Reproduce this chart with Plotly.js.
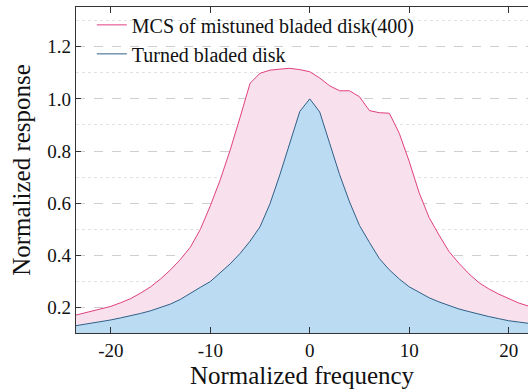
<!DOCTYPE html>
<html>
<head>
<meta charset="utf-8">
<script src="https://cdn.plot.ly/plotly-3.0.1.min.js"></script>
<style>html,body{margin:0;padding:0;background:#fff;}#chart{width:528px;height:392px;}</style>
</head>
<body>
<div id="chart"></div>
<script>
// Normalized frequency samples
const freq = [-24, -23, -22, -21, -20, -19, -18, -17, -16, -15, -14, -13, -12, -11, -10, -9, -8, -7, -6, -5, -4, -3, -2, -1, 0, 1, 2, 3, 4, 5, 6, 7, 8, 9, 10, 11, 12, 13, 14, 15, 16, 17, 18, 19, 20, 21, 22, 23, 24];
// MCS envelope of mistuned bladed disk (400 samples)
const mcsResponse = [0.167, 0.176, 0.186, 0.195, 0.205, 0.219, 0.235, 0.256, 0.280, 0.310, 0.345, 0.385, 0.432, 0.500, 0.590, 0.690, 0.804, 0.930, 1.060, 1.098, 1.110, 1.114, 1.117, 1.112, 1.104, 1.080, 1.050, 1.031, 1.031, 1.008, 0.955, 0.947, 0.945, 0.868, 0.760, 0.640, 0.545, 0.478, 0.415, 0.370, 0.330, 0.296, 0.272, 0.252, 0.235, 0.218, 0.206, 0.196, 0.188];
// Tuned bladed disk response
const tunedResponse = [0.128, 0.134, 0.139, 0.145, 0.153, 0.161, 0.169, 0.178, 0.188, 0.200, 0.214, 0.232, 0.256, 0.278, 0.300, 0.333, 0.368, 0.408, 0.455, 0.510, 0.598, 0.710, 0.830, 0.952, 1.000, 0.950, 0.830, 0.710, 0.605, 0.515, 0.450, 0.388, 0.345, 0.310, 0.280, 0.258, 0.238, 0.222, 0.207, 0.195, 0.185, 0.175, 0.166, 0.158, 0.150, 0.145, 0.140, 0.135, 0.130];
const seriesNames = ["MCS of mistuned bladed disk(400)", "Turned bladed disk"];
const xTickVals = [-20, -10, 0, 10, 20];
const xTickText = ["-20", "-10", "0", "10", "20"];

const serif = "Liberation Serif";
const pinkLine = "#e0407f", blueLine = "#2f6088";

const traces = [
  {x: freq, y: mcsResponse, type: "scatter", mode: "lines", showlegend: false, hoverinfo: "skip",
   line: {width: 0, color: pinkLine}, fill: "tozeroy", fillcolor: "#f8e0ed"},
  {x: freq, y: tunedResponse, type: "scatter", mode: "lines", showlegend: false, hoverinfo: "skip",
   line: {width: 0, color: blueLine}, fill: "tozeroy", fillcolor: "#badbf1"},
  {x: freq, y: mcsResponse, name: seriesNames[0], type: "scatter", mode: "lines",
   line: {color: pinkLine, width: 1}},
  {x: freq, y: tunedResponse, name: seriesNames[1], type: "scatter", mode: "lines",
   line: {color: blueLine, width: 1}}
];

const layout = {
  width: 528, height: 392,
  margin: {l: 76, r: 0, t: 7, b: 59},
  paper_bgcolor: "#fff", plot_bgcolor: "#fff",
  font: {family: serif, color: "#111", size: 19},
  showlegend: true,
  legend: {
    x: 0.035, y: 1.005, xanchor: "left", yanchor: "top",
    bgcolor: "rgba(0,0,0,0)", font: {family: serif, size: 20, color: "#111"},
    tracegroupgap: 0
  },
  xaxis: {
    range: [-23.5, 21.94],
    tickvals: xTickVals, ticktext: xTickText,
    ticks: "inside", ticklen: 6, tickcolor: "#333",
    showline: true, linecolor: "#333", linewidth: 1.2, mirror: "ticks",
    showgrid: false, zeroline: false,
    tickfont: {family: serif, size: 19, color: "#111"},
    title: {text: "Normalized frequency", font: {family: serif, size: 25, color: "#111"}, standoff: 6}
  },
  yaxis: {
    range: [0.103, 1.352],
    tick0: 0.2, dtick: 0.2, tickformat: ".1f",
    ticks: "inside", ticklen: 5, tickcolor: "#333",
    showline: true, linecolor: "#333", linewidth: 1.2, mirror: false,
    showgrid: true, gridcolor: "#cfcfcf", griddash: "dash", gridwidth: 1,
    minor: {dtick: 0.1, tick0: 0.1, showgrid: true, gridcolor: "#e2e2e2", griddash: "dot", gridwidth: 1, ticks: ""},
    zeroline: false,
    tickfont: {family: serif, size: 19, color: "#111"},
    title: {text: "Normalized response", font: {family: serif, size: 25, color: "#111"}, standoff: 9}
  }
};

Plotly.newPlot("chart", traces, layout, {staticPlot: true, displayModeBar: false});
</script>
</body>
</html>
